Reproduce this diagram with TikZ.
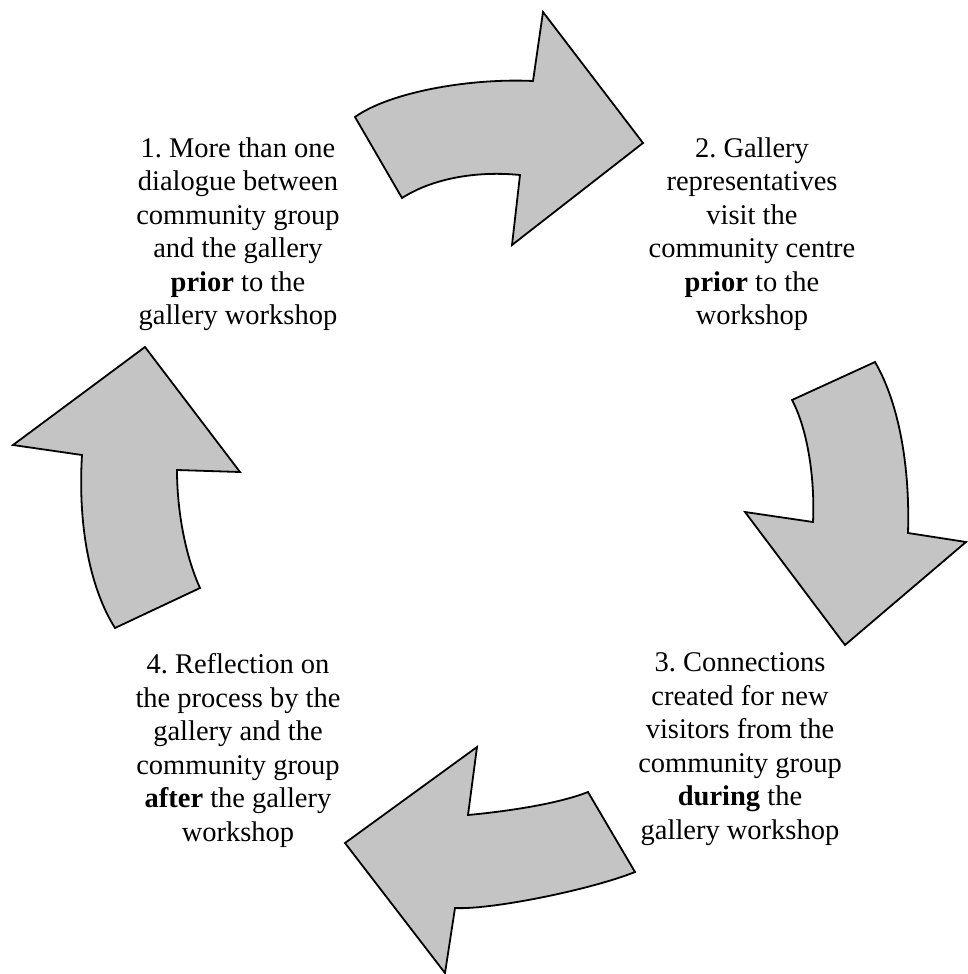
\documentclass[tikz,border=0pt]{standalone}
\usepackage{fontspec}
\setmainfont{Liberation Serif}
\frenchspacing
\definecolor{arrowfill}{RGB}{196,196,196}
\begin{document}
\begin{tikzpicture}[x=1pt,y=-1pt,
  cyclearrow/.style={draw=black,line width=1.8pt,fill=arrowfill,line join=miter},
  steptext/.style={align=center,inner sep=0pt,anchor=north,font=\fontsize{28.5}{33.5}\selectfont}]
\useasboundingbox (0,0) rectangle (967,974);
% top arrow
\path[cyclearrow] (355,117) .. controls (390,92) and (470,78) .. (533,81)
  -- (543,12) -- (643,143) -- (512,245) -- (520,175)
  .. controls (480,171) and (435,177) .. (402,198) -- cycle;
% right arrow
\path[cyclearrow] (875,362) .. controls (900,405) and (910,470) .. (908,533)
  -- (966,542) -- (845,645) -- (745,512) -- (813,522)
  .. controls (815,480) and (808,430) .. (792,400) -- cycle;
% bottom arrow
\path[cyclearrow] (588,792) .. controls (555,805) and (500,812) .. (468,815)
  -- (477,747) -- (345,843) -- (445,973) -- (455,908)
  .. controls (490,910) and (590,890) .. (635,872) -- cycle;
% left arrow
\path[cyclearrow] (145,347) -- (13,445) -- (82,455)
  .. controls (78,520) and (88,585) .. (115,628) -- (200,588)
  .. controls (185,555) and (177,510) .. (177,470) -- (240,472) -- cycle;
% texts
\node[steptext] (t1) at (238,137.5) {1. More than one\\dialogue between\\community group\\and the gallery\\\textbf{prior} to the\\gallery workshop};
\node[steptext] (t2) at (752,137.5) {2. Gallery\\representatives\\visit the\\community centre\\\textbf{prior} to the\\workshop};
\node[steptext] (t3) at (740,652.5) {3. Connections\\created for new\\visitors from the\\community group\\\textbf{during} the\\gallery workshop};
\node[steptext] (t4) at (238,653.5) {4. Reflection on\\the process by the\\gallery and the\\community group\\\textbf{after} the gallery\\workshop};
\end{tikzpicture}
\end{document}
